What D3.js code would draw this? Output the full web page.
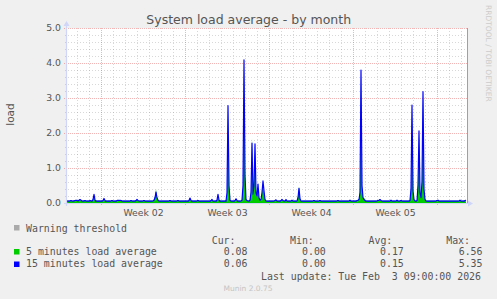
<!DOCTYPE html>
<html><head><meta charset="utf-8">
<script src="https://cdn.jsdelivr.net/npm/d3@7"></script>
<style>body{margin:0;background:#f0f0f0}svg{display:block}text{white-space:pre}</style>
</head><body>
<script>
// ---------------- data ----------------
const chartTitle = "System load average - by month";
const yLabel = "load";
const yTicks = [0, 1, 2, 3, 4, 5];
const seriesStart = "2026-01-02T04:00:00Z";   // first sample
const stepHours = 2;                           // consolidation step
const seriesNames = ["5 minutes load average", "15 minutes load average"];
const seriesColors = ["#00cc00", "#0000ff"];
const statHeaders = ["Cur:", "Min:", "Avg:", "Max:"];
const stats5 = ["0.08", "0.00", "0.17", "6.56"];
const stats15 = ["0.06", "0.00", "0.15", "5.35"];
const warningLabel = "Warning threshold";
const lastUpdate = "Last update: Tue Feb  3 09:00:00 2026";
const versionText = "Munin 2.0.75";
const watermark = "RRDTOOL / TOBI OETIKER";

const load15 = [
0.05,0.06,0.05,0.06,0.07,0.06,0.05,0.06,0.07,0.08,0.07,0.06,0.08,0.10,0.08,0.06,0.05,0.06,0.07,0.06,
0.05,0.06,0.05,0.07,0.06,0.05,0.10,0.25,0.08,0.05,0.06,0.05,0.06,0.05,0.06,0.05,0.07,0.13,0.07,0.05,
0.06,0.05,0.06,0.05,0.06,0.07,0.06,0.05,0.06,0.05,0.07,0.08,0.07,0.08,0.07,0.06,0.05,0.06,0.05,0.06,
0.05,0.06,0.05,0.06,0.07,0.06,0.05,0.06,0.05,0.07,0.10,0.07,0.06,0.05,0.06,0.05,0.06,0.07,0.06,0.05,
0.06,0.05,0.06,0.05,0.06,0.05,0.06,0.08,0.15,0.31,0.15,0.08,0.06,0.05,0.06,0.05,0.06,0.05,0.06,0.05,
0.06,0.05,0.06,0.07,0.06,0.05,0.06,0.05,0.06,0.05,0.06,0.07,0.06,0.05,0.06,0.05,0.06,0.05,0.06,0.05,
0.06,0.05,0.07,0.14,0.07,0.05,0.06,0.05,0.06,0.05,0.06,0.07,0.06,0.05,0.06,0.05,0.06,0.05,0.06,0.05,
0.06,0.05,0.06,0.05,0.07,0.10,0.06,0.05,0.06,0.05,0.08,0.25,0.08,0.05,0.06,0.05,0.06,0.05,0.06,0.05,
0.30,2.78,0.50,0.08,0.06,0.05,0.06,0.05,0.07,0.12,0.07,0.05,0.06,0.05,0.06,0.08,0.50,4.09,0.80,0.10,
0.07,0.06,0.05,0.08,0.30,1.71,0.25,0.50,1.69,0.30,0.20,0.54,0.15,0.08,0.10,0.30,0.63,0.35,0.10,0.06,
0.05,0.06,0.05,0.06,0.05,0.06,0.05,0.06,0.07,0.09,0.06,0.05,0.06,0.05,0.07,0.10,0.07,0.06,0.05,0.10,
0.06,0.05,0.06,0.05,0.06,0.08,0.06,0.05,0.06,0.05,0.06,0.15,0.42,0.12,0.06,0.05,0.06,0.05,0.06,0.05,
0.06,0.05,0.06,0.05,0.06,0.05,0.06,0.07,0.06,0.05,0.06,0.05,0.06,0.07,0.06,0.05,0.06,0.05,0.06,0.05,
0.06,0.05,0.06,0.05,0.06,0.05,0.06,0.05,0.06,0.05,0.06,0.07,0.06,0.05,0.06,0.05,0.06,0.05,0.06,0.05,
0.06,0.05,0.06,0.08,0.06,0.05,0.06,0.05,0.06,0.05,0.07,0.08,0.10,0.30,3.80,0.50,0.15,0.10,0.07,0.05,
0.06,0.05,0.06,0.05,0.06,0.05,0.06,0.05,0.06,0.05,0.06,0.07,0.08,0.10,0.07,0.06,0.05,0.06,0.05,0.06,
0.05,0.06,0.05,0.06,0.08,0.06,0.05,0.06,0.05,0.06,0.08,0.06,0.05,0.06,0.07,0.06,0.05,0.06,0.05,0.06,
0.05,0.06,0.05,0.07,0.40,2.80,0.35,0.10,0.06,0.05,0.07,0.50,2.06,0.30,0.15,0.60,3.18,0.40,0.10,0.06,
0.05,0.06,0.05,0.06,0.05,0.06,0.05,0.06,0.05,0.06,0.07,0.08,0.06,0.05,0.06,0.05,0.06,0.05,0.06,0.05,
0.06,0.05,0.06,0.05,0.06,0.05,0.06,0.05,0.06,0.05,0.06,0.05,0.06,0.08,0.06,0.05,0.06,0.05,0.07,0.08
];
const load5 = [
0.06,0.07,0.06,0.08,0.07,0.06,0.07,0.08,0.06,0.09,0.08,0.07,0.09,0.09,0.07,0.06,0.07,0.08,0.06,0.07,
0.06,0.07,0.06,0.08,0.07,0.06,0.12,0.20,0.07,0.06,0.07,0.06,0.08,0.06,0.07,0.06,0.08,0.10,0.06,0.06,
0.07,0.06,0.08,0.06,0.07,0.08,0.07,0.06,0.07,0.06,0.08,0.09,0.08,0.07,0.08,0.07,0.06,0.07,0.06,0.07,
0.06,0.07,0.06,0.07,0.08,0.07,0.06,0.07,0.06,0.08,0.09,0.06,0.07,0.06,0.07,0.06,0.07,0.08,0.07,0.06,
0.07,0.06,0.07,0.06,0.07,0.06,0.07,0.10,0.20,0.40,0.12,0.07,0.07,0.06,0.07,0.06,0.07,0.06,0.07,0.06,
0.07,0.06,0.07,0.08,0.07,0.06,0.07,0.06,0.07,0.06,0.07,0.08,0.07,0.06,0.07,0.06,0.07,0.06,0.07,0.06,
0.07,0.06,0.08,0.12,0.06,0.06,0.07,0.06,0.07,0.06,0.07,0.08,0.07,0.06,0.07,0.06,0.07,0.06,0.07,0.06,
0.07,0.06,0.07,0.06,0.08,0.09,0.07,0.06,0.07,0.06,0.09,0.15,0.07,0.06,0.07,0.06,0.07,0.06,0.07,0.06,
0.25,2.70,0.40,0.07,0.07,0.06,0.07,0.06,0.08,0.10,0.06,0.06,0.07,0.06,0.07,0.10,0.45,3.95,0.70,0.09,
0.08,0.07,0.06,0.09,0.35,1.86,0.20,0.45,1.50,0.25,0.18,0.40,0.12,0.07,0.09,0.28,0.55,0.30,0.09,0.07,
0.06,0.07,0.06,0.07,0.06,0.07,0.06,0.07,0.08,0.08,0.07,0.06,0.07,0.06,0.08,0.09,0.06,0.07,0.06,0.09,
0.07,0.06,0.07,0.06,0.07,0.07,0.07,0.06,0.07,0.06,0.07,0.18,0.48,0.10,0.07,0.06,0.07,0.06,0.07,0.06,
0.07,0.06,0.07,0.06,0.07,0.06,0.07,0.08,0.07,0.06,0.07,0.06,0.07,0.08,0.07,0.06,0.07,0.06,0.07,0.06,
0.07,0.06,0.07,0.06,0.07,0.06,0.07,0.06,0.07,0.06,0.07,0.08,0.07,0.06,0.07,0.06,0.07,0.06,0.07,0.06,
0.07,0.06,0.07,0.09,0.07,0.06,0.07,0.06,0.07,0.06,0.08,0.09,0.12,0.35,3.70,0.45,0.16,0.15,0.09,0.06,
0.07,0.06,0.07,0.06,0.07,0.06,0.07,0.06,0.07,0.06,0.07,0.08,0.09,0.09,0.06,0.07,0.06,0.07,0.06,0.07,
0.06,0.07,0.06,0.07,0.09,0.07,0.06,0.07,0.06,0.07,0.09,0.07,0.06,0.07,0.08,0.07,0.06,0.07,0.06,0.07,
0.06,0.07,0.06,0.08,0.45,2.75,0.30,0.09,0.07,0.06,0.08,0.55,2.00,0.28,0.14,0.65,3.10,0.35,0.09,0.07,
0.06,0.07,0.06,0.07,0.06,0.07,0.06,0.07,0.06,0.07,0.08,0.09,0.07,0.06,0.07,0.06,0.07,0.06,0.07,0.06,
0.07,0.06,0.07,0.06,0.07,0.06,0.07,0.06,0.07,0.06,0.07,0.06,0.07,0.09,0.07,0.06,0.07,0.06,0.08,0.09
];

// ---------------- layout ----------------
const W = 497, H = 299;
const L = 67, R = 467, T = 28, B = 203;
const pxPerDay = 12;
const t0 = new Date(seriesStart);
const t1 = new Date(+t0 + (R - L) / pxPerDay * 864e5);
const step = stepHours * 3600e3;

const svg = d3.select("body").append("svg").attr("width", W).attr("height", H);
svg.append("rect").attr("width", W).attr("height", H).attr("fill", "#f0f0f0");

const x = d3.scaleTime().domain([t0, t1]).range([L, R]);
const y = d3.scaleLinear().domain([0, 5]).range([B, T]);

// canvas
svg.append("rect").attr("x", L).attr("y", T).attr("width", R - L).attr("height", B - T).attr("fill", "#fff");

const minorCol = "rgba(143,143,143,0.35)", majorCol = "rgba(222,79,79,0.42)";
const grid = svg.append("g").attr("shape-rendering", "crispEdges");
// horizontal minor grid (0.2 units)
const hMinor = d3.range(0, 5.0001, 0.2).filter(v => Math.abs(v - Math.round(v)) > 1e-6);
grid.selectAll(".hmin").data(hMinor).join("line")
  .attr("x1", L - 2).attr("x2", R).attr("y1", d => Math.round(y(d)) + 0.5).attr("y2", d => Math.round(y(d)) + 0.5)
  .attr("stroke", minorCol).attr("stroke-dasharray", "1,2");
// vertical minor grid (days)
const days = d3.utcDay.range(d3.utcDay.ceil(t0), t1).filter(d => d.getUTCDay() !== 1);
grid.selectAll(".vmin").data(days).join("line")
  .attr("x1", d => Math.round(x(d)) + 0.5).attr("x2", d => Math.round(x(d)) + 0.5).attr("y1", T).attr("y2", B + 2)
  .attr("stroke", minorCol).attr("stroke-dasharray", "1,2");
// major horizontal
grid.selectAll(".hmaj").data(yTicks).join("line")
  .attr("x1", L - 3).attr("x2", R).attr("y1", d => Math.round(y(d)) + 0.5).attr("y2", d => Math.round(y(d)) + 0.5)
  .attr("stroke", majorCol).attr("stroke-dasharray", "1,1");
// major vertical (weeks)
const weeks = d3.utcMonday.range(d3.utcMonday.ceil(t0), t1);
grid.selectAll(".vmaj").data(weeks).join("line")
  .attr("x1", d => Math.round(x(d)) + 0.5).attr("x2", d => Math.round(x(d)) + 0.5).attr("y1", T).attr("y2", B + 3)
  .attr("stroke", majorCol).attr("stroke-dasharray", "1,1");

// series
const times = load5.map((_, i) => new Date(+t0 + i * step));
const area = d3.area().x((d, i) => x(times[i])).y0(y(0)).y1(d => y(d));
const line = d3.line().x((d, i) => x(times[i])).y(d => y(d));
svg.append("path").datum(load5).attr("d", area).attr("fill", seriesColors[0]);
svg.append("path").datum(load15).attr("d", line).attr("fill", "none")
  .attr("stroke", seriesColors[1]).attr("stroke-width", 1.2).attr("stroke-linejoin", "round");

// axes lines
const axisCol = "#cfd6f8";
svg.append("line").attr("x1", L - 0.5).attr("x2", L - 0.5).attr("y1", B + 3).attr("y2", T - 3)
  .attr("stroke", axisCol).attr("stroke-width", 1.2);
svg.append("path").attr("d", `M${L - 3.5},${T - 2} L${L - 0.5},${T - 7} L${L + 2.5},${T - 2} Z`).attr("fill", axisCol);
svg.append("line").attr("x1", L - 3).attr("x2", R + 1).attr("y1", B + 0.5).attr("y2", B + 0.5)
  .attr("stroke", axisCol).attr("stroke-width", 1.2);
svg.append("path").attr("d", `M${R + 1},${B - 2.5} L${R + 6},${B + 0.5} L${R + 1},${B + 3.5} Z`).attr("fill", axisCol);
// right frame line
svg.append("line").attr("x1", R + 0.5).attr("x2", R + 0.5).attr("y1", T).attr("y2", B)
  .attr("stroke", "#a0a0a0").attr("stroke-width", 1);

const txtCol = "#555";
const sans = "'DejaVu Sans', sans-serif", mono = "'DejaVu Sans Mono', monospace";

// y axis labels
const yAxis = svg.append("g").attr("transform", `translate(${L - 6},0)`)
  .call(d3.axisLeft(y).tickValues(yTicks).tickFormat(d3.format(".1f")).tickSize(0).tickPadding(0));
yAxis.select(".domain").remove();
yAxis.selectAll("text").attr("fill", txtCol).style("font-family", sans).style("font-size", "9.3px");

// x axis labels: centered mid-week
const mids = weeks.map(d => new Date(+d + 3.5 * 864e5)).filter(d => d < t1);
const xAxis = svg.append("g").attr("transform", `translate(0,${B})`)
  .call(d3.axisBottom(x).tickValues(mids).tickFormat(d => "Week " + d3.utcFormat("%V")(d)).tickSize(0).tickPadding(6.4));
xAxis.select(".domain").remove();
xAxis.selectAll("text").attr("fill", txtCol).style("font-family", sans).style("font-size", "9.3px");

// title
svg.append("text").attr("x", 248.7).attr("y", 24).attr("text-anchor", "middle")
  .attr("fill", txtCol).style("font-family", sans).style("font-size", "12.5px").text(chartTitle);
// y label
svg.append("text").attr("transform", "translate(13.5,114.5) rotate(-90)").attr("text-anchor", "middle")
  .attr("fill", txtCol).style("font-family", sans).style("font-size", "10.5px").text(yLabel);
// watermark
svg.append("text").attr("transform", "translate(485.5,5) rotate(90)").attr("text-anchor", "start")
  .attr("fill", "#cccccc").style("font-family", sans).style("font-size", "7.5px").text(watermark);
// version
svg.append("text").attr("x", 248).attr("y", 291).attr("text-anchor", "middle")
  .attr("fill", "#c4c4c4").style("font-family", sans).style("font-size", "7.5px").text(versionText);

// legend
const lg = svg.append("g").style("font-family", mono).style("font-size", "9.9px").attr("fill", txtCol);
const sq = (yy, c) => svg.append("rect").attr("x", 14).attr("y", yy).attr("width", 5.5).attr("height", 5.5).attr("fill", c);
sq(225, "#aaaaaa");
lg.append("text").attr("x", 26).attr("y", 231.5).text(warningLabel);
const colX = [211.7, 290, 368.5, 446.2];
const valX = [223.7, 302, 380, 458.7];
lg.selectAll(".hdr").data(statHeaders).join("text").attr("x", (d, i) => colX[i]).attr("y", 243.5).text(d => d);
[[stats5, 254.5, 249], [stats15, 267, 261.5]].forEach(([vals, yy, sy], k) => {
  sq(sy, seriesColors[k]);
  lg.append("text").attr("x", 26).attr("y", yy).text(seriesNames[k]);
  lg.selectAll(".v" + k).data(vals).join("text").attr("x", (d, i) => valX[i]).attr("y", yy).text(d => d);
});
lg.append("text").attr("x", 261).attr("y", 279.5).text(lastUpdate);
</script>
</body></html>
